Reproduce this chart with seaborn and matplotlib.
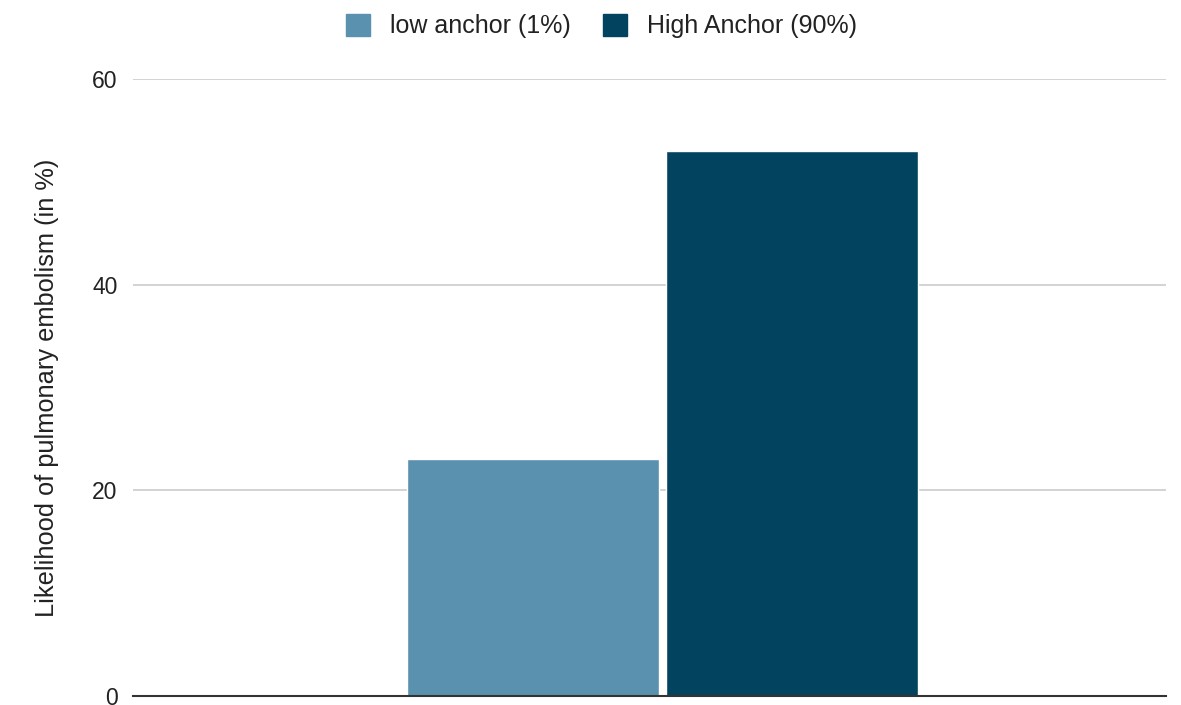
import pandas as pd
import seaborn as sns
import matplotlib.pyplot as plt

# 数据
groups = ['low anchor (1%)', 'High Anchor (90%)']
likelihood = [23, 53]
colors = ['#5A91AE', '#02445F']
y_ticks = [0, 20, 40, 60]

df = pd.DataFrame({'cat': [''] * len(groups), 'group': groups, 'value': likelihood})

sns.set_theme(style='white')
plt.rcParams['font.family'] = ['Liberation Sans', 'DejaVu Sans']

fig = plt.figure(figsize=(11.81, 7.05), dpi=100)
ax = fig.add_axes([0.1126, 0.0128, 0.8747, 0.8752])

sns.barplot(data=df, x='cat', y='value', hue='group', hue_order=groups,
            palette=colors, width=0.5, gap=0.024, saturation=1,
            legend=False, ax=ax, zorder=3)

ax.set_ylim(0, 60)
ax.set_xlim(-0.5 - 0.0126, 0.5 - 0.0126)
ax.set_yticks(y_ticks)
ax.set_yticklabels([str(t) for t in y_ticks], fontsize=16.5, color='#222222')
ax.set_xticks([])
ax.set_xlabel('')
ax.set_ylabel('Likelihood of pulmonary embolism (in %)', fontsize=18.3,
              color='#222222', labelpad=24)
ax.tick_params(axis='y', length=0, pad=11)

ax.yaxis.grid(True, color='#cccccc', linewidth=1.2)
ax.set_axisbelow(True)
for s in ['top', 'right', 'left']:
    ax.spines[s].set_visible(False)
ax.spines['bottom'].set_color('#333333')
ax.spines['bottom'].set_linewidth(1.5)
ax.spines['bottom'].set_zorder(4)

handles = [plt.Rectangle((0, 0), 1, 1, color=c) for c in colors]
fig.legend(handles, groups, loc='upper center', bbox_to_anchor=(0.5095, 1.012),
           ncol=2, frameon=False, fontsize=18, handlelength=0.95,
           handleheight=0.95, columnspacing=1.3, handletextpad=0.8,
           labelcolor='#222222')

fig.savefig('out.png', dpi=100, facecolor='white')
